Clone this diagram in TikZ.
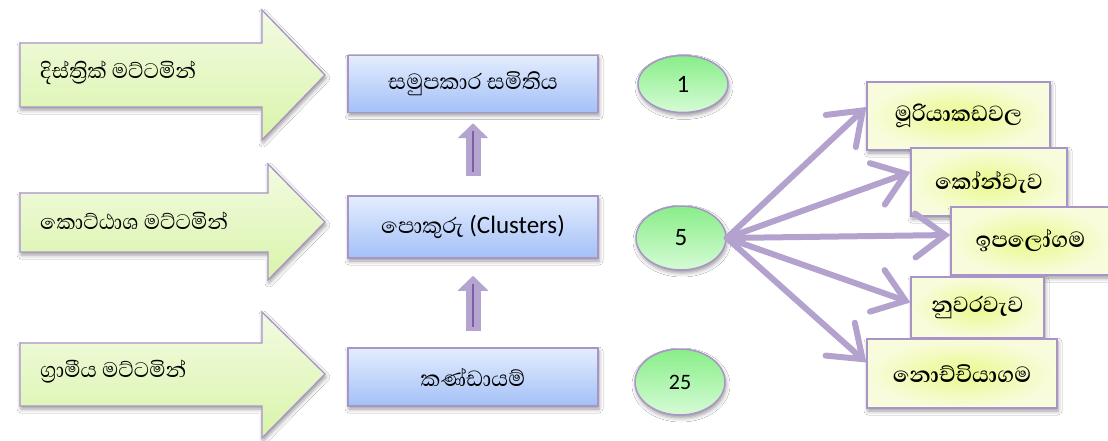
\documentclass[tikz,border=0pt]{standalone}
\usepackage{fontspec}
\newfontfamily\sinhfont[Script=Sinhala]{Abhaya Libre}
\newfontfamily\latfont{Carlito}
\usetikzlibrary{shadows.blur,calc,arrows.meta,shapes.geometric}
\definecolor{lav}{HTML}{A994C8}
\definecolor{lavline}{HTML}{B3A2CE}
\definecolor{lavdark}{HTML}{7B60A6}
\definecolor{gtop}{HTML}{F3FBE2}
\definecolor{gbot}{HTML}{D9F4AA}
\definecolor{btop}{HTML}{E4EDFE}
\definecolor{bbot}{HTML}{A3C0F7}
\definecolor{etop}{HTML}{88EE88}
\definecolor{ebot}{HTML}{D6FBD6}
\definecolor{rin}{HTML}{EAF98C}
\definecolor{rout}{HTML}{F8FCDD}
\begin{document}
\begin{tikzpicture}[x=1pt,y=-1pt,
  shad/.style={blur shadow={shadow xshift=1pt,shadow yshift=-3pt,shadow blur radius=4pt,shadow opacity=40}},
  larrow/.style={draw=lav,line width=1.3pt,top color=gtop,bottom color=gbot,shad},
  ltext/.style={anchor=west,inner sep=0pt,font=\sinhfont\fontsize{27}{30}\selectfont},
  bbox/.style={draw=lav,line width=1.5pt,top color=btop,bottom color=bbot,shad,minimum width=250pt,inner sep=0pt,font=\sinhfont\fontsize{28}{30}\selectfont},
  ell/.style={ellipse,draw=lav,line width=1.5pt,top color=etop,bottom color=ebot,shad,minimum width=90pt,inner sep=0pt,font=\latfont\fontsize{25}{28}\selectfont},
  rbox/.style={draw=lav,line width=1.3pt,inner color=rin,outer color=rout,shad,inner sep=0pt,font=\sinhfont\bfseries\fontsize{28}{30}\selectfont},
  uparrow/.style={lav!85,line width=15pt,-{Triangle[width=30pt,length=15pt]}},
  upline/.style={lavdark,line width=2.5pt},
  spoke/.style={lavline,line width=6pt,line cap=round,-{Straight Barb[length=30pt,width=44pt,line cap=round]}}
]
\useasboundingbox (0,0) rectangle (1108,441);
\fill[white] (0,0) rectangle (1108,441);
% left arrows
\path[larrow] (20,43) -- (262,43) -- (262,10) -- (325,75) -- (262,140) -- (262,107) -- (20,107) -- cycle;
\path[larrow] (20,193) -- (268,193) -- (268,164) -- (325,222) -- (268,280) -- (268,252) -- (20,252) -- cycle;
\path[larrow] (20,343) -- (262,343) -- (262,312) -- (325,374) -- (262,438) -- (262,406) -- (20,406) -- cycle;
\node[ltext] (t1) at (40,73) {දිස්ත්‍රික් මට්ටමින්};
\node[ltext] (t2) at (40,221) {කොට්ඨාශ මට්ටමින්};
\node[ltext] (t3) at (40,372) {ග්‍රාමීය මට්ටමින්};
% centre boxes
\node[bbox,minimum height=57pt] (c1) at (473,84) {සමුපකාර සමිතිය};
\node[bbox,minimum height=62pt] (c2) at (473,227) {පොකුරු {\latfont\fontsize{25}{28}\selectfont (Clusters)}};
\node[bbox,minimum height=58pt] (c3) at (473,377) {කණ්ඩායම්};
\draw[uparrow] ($(c2.north)+(0,-19)$) -- ($(c1.south)+(0,10)$);
\draw[upline] ($(c2.north)+(0,-23)$) -- ($(c1.south)+(0,18)$);
\draw[uparrow] ($(c3.north)+(0,-16)$) -- ($(c2.south)+(0,17)$);
\draw[upline] ($(c3.north)+(0,-20)$) -- ($(c2.south)+(0,25)$);
% ellipses
\node[ell,minimum height=57pt] (e1) at (683,84) {1};
\node[ell,minimum height=64pt] (e2) at (681,238) {5};
\node[ell,minimum height=66pt,font=\latfont\fontsize{22}{24}\selectfont] (e3) at (680,382) {25};
% right boxes
\node[rbox,minimum width=183pt,minimum height=68pt] (r1) at (958.5,116) {මූරියාකඩවල};
\node[rbox,minimum width=156pt,minimum height=68pt] (r2) at (989,182) {කෝන්වැව};
\node[rbox,minimum width=159pt,minimum height=68pt] (r3) at (1030.5,241) {ඉපලෝගම};
\node[rbox,minimum width=133pt,minimum height=61pt] (r4) at (977.5,307.5) {නුවරවැව};
\node[rbox,minimum width=190pt,minimum height=69pt] (r5) at (962,373.5) {නොච්චියාගම};
% spokes
\draw[spoke] (e2.east) -- ($(r1.west)+(0,-9)$);
\draw[spoke] (e2.east) -- ($(r2.west)+(0,-10)$);
\draw[spoke] (e2.east) -- ($(r3.west)+(0,-6)$);
\draw[spoke] (e2.east) -- ($(r4.west)+(0,-5)$);
\draw[spoke] (e2.east) -- ($(r5.west)+(0,-11)$);
\end{tikzpicture}
\end{document}
